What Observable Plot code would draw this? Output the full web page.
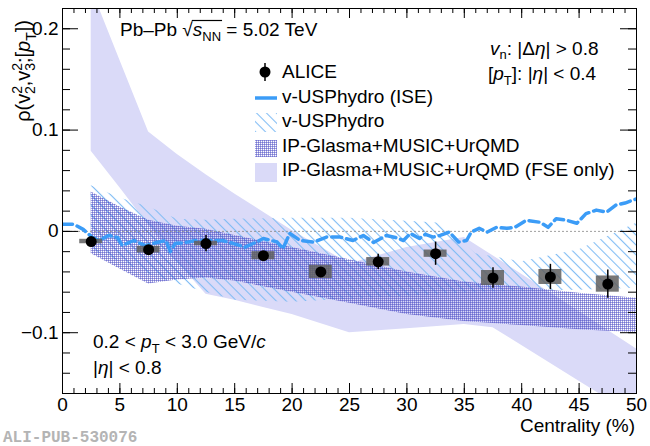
<!DOCTYPE html>
<html><head><meta charset="utf-8">
<script src="https://cdn.jsdelivr.net/npm/d3@7"></script>
<script src="https://cdn.jsdelivr.net/npm/@observablehq/plot@0.6"></script>
<style>body{margin:0;background:#fff} svg{display:block}</style>
</head><body><div id="chart"></div>
<script>
// ALICE data
const centrality = [2.5, 7.5, 12.5, 17.5, 22.5, 27.5, 32.5, 37.5, 42.5, 47.5];
const rho        = [-0.010, -0.018, -0.012, -0.024, -0.040, -0.030, -0.022, -0.046, -0.045, -0.052];
const statErr    = [0.002, 0.003, 0.008, 0.003, 0.004, 0.0075, 0.0115, 0.010, 0.0125, 0.014];
const systErr    = [0.0022, 0.0033, 0.0022, 0.004, 0.0066, 0.0042, 0.0036, 0.0074, 0.0074, 0.008];

// v-USPhydro (ISE) curve
const iseC = [0, 1, 1.8, 2.6, 3.2, 4.0, 4.8, 5.2, 6.2, 7.2, 8.2, 9.0, 9.4, 9.8, 10.7, 11.6, 12.8, 13.9, 14.9, 15.9, 16.8, 17.5, 18.7, 19.2, 19.8, 20.7, 21.9, 23.0, 24.2, 25.3, 26.2, 27.1, 28.2, 29.0, 29.7, 30.3, 31.1, 31.6, 32.3, 32.9, 33.7, 34.5, 35.2, 35.6, 36.3, 37.0, 37.8, 38.7, 39.4, 40.4, 41.6, 42.3, 43.0, 43.9, 44.8, 45.6, 46.5, 47.4, 48.2, 49.0, 50.0];
const iseV = [0.007, 0.007, 0.002, -0.006, -0.009, -0.004, -0.006, -0.014, -0.009, -0.014, -0.011, -0.009, -0.020, -0.012, -0.011, -0.009, -0.009, -0.009, -0.012, -0.0155, -0.011, -0.007, -0.0105, -0.017, -0.002, -0.009, -0.0105, -0.0056, -0.0056, -0.009, -0.004, -0.011, -0.004, -0.006, -0.009, -0.002, -0.007, -0.003, -0.0056, -0.004, -0.0007, -0.0105, -0.009, -0.0007, 0.003, -0.0007, 0.004, 0.003, 0.004, 0.011, 0.009, 0.004, 0.0125, 0.011, 0.008, 0.0175, 0.021, 0.019, 0.026, 0.028, 0.032];

// v-USPhydro band
const usC  = [2.5, 5, 7.5, 10, 12.5, 15, 20, 25, 30, 33, 36, 40, 45, 50];
const usLo = [-0.018, -0.030, -0.042, -0.052, -0.060, -0.068, -0.070, -0.067, -0.064, -0.062, -0.060, -0.059, -0.058, -0.056];
const usHi = [0.045, 0.033, 0.024, 0.012, 0.011, 0.012, 0.013, 0.013, 0.010, 0.008, -0.022, -0.030, -0.018, 0.008];

// IP-Glasma+MUSIC+UrQMD band
const glC  = [2.5, 5, 7.5, 10, 12.5, 15, 20, 25, 30, 35, 40, 45, 50];
const glLo = [-0.022, -0.037, -0.052, -0.048, -0.046, -0.049, -0.060, -0.071, -0.082, -0.089, -0.093, -0.097, -0.100];
const glHi = [0.039, 0.024, 0.011, 0.005, 0.002, -0.004, -0.016, -0.028, -0.040, -0.050, -0.055, -0.061, -0.066];

// IP-Glasma+MUSIC+UrQMD (FSE only) band
const fseC  = [2.5, 5, 7.5, 10, 12.5, 15, 17.5, 20, 25, 30, 35, 37.5, 45, 50];
const fseLo = [0.079, 0.043, 0.006, -0.030, -0.062, -0.068, -0.075, -0.082, -0.100, -0.096, -0.092, -0.095, -0.148, -0.183];
const fseHi = [0.24, 0.169, 0.098, 0.076, 0.056, 0.037, 0.019, 0.001, -0.032, -0.016, -0.006, -0.024, -0.079, -0.116];

// axis ticks
const xMajor = [0, 5, 10, 15, 20, 25, 30, 35, 40, 45, 50];
const xMinor = d3.range(0, 51);
const yMajor = [-0.1, 0, 0.1, 0.2];
const yMinor = d3.range(-8, 12).map(i => i * 0.02);
const yLabels = ["−0.1", "0", "0.1", "0.2"];

const alice = centrality.map((c, i) => ({c, v: rho[i], stat: statErr[i], syst: systErr[i]}));
const ise = iseC.map((c, i) => ({c, v: iseV[i]}));
const us = usC.map((c, i) => ({c, lo: usLo[i], hi: usHi[i]}));
const gl = glC.map((c, i) => ({c, lo: glLo[i], hi: glHi[i]}));
const fse = fseC.map((c, i) => ({c, lo: fseLo[i], hi: fseHi[i]}));

const W = 650, H = 446, mL = 62, mR = 14, mT = 8, mB = 53;
const pw = W - mL - mR, ph = H - mT - mB;
const FONT = "Liberation Sans, Arial, Helvetica, sans-serif";
const boxHalf = 1;

const chart = Plot.plot({
  width: W, height: H,
  marginLeft: mL, marginRight: mR, marginTop: mT, marginBottom: mB,
  x: {domain: [0, 50], axis: null},
  y: {domain: [-0.16, 0.22], axis: null},
  style: {fontFamily: FONT, background: "white", color: "black"},
  marks: [
    Plot.areaY(fse, {x: "c", y1: "lo", y2: "hi", fill: "#dadaf8", clip: true}),
    Plot.areaY(us, {x: "c", y1: "lo", y2: "hi", fill: "url(#hatchUS)", clip: true}),
    Plot.areaY(gl, {x: "c", y1: "lo", y2: "hi", fill: "url(#xhGL)", clip: true}),
    Plot.ruleY([0], {stroke: "#888", strokeDasharray: "2,2", strokeWidth: 0.8}),
    Plot.line(ise, {x: "c", y: "v", stroke: "#3b9cf7", strokeWidth: 3.5, strokeDasharray: "10,5", clip: true}),
    Plot.rect(alice, {x1: d => d.c - boxHalf, x2: d => d.c + boxHalf, y1: d => d.v - d.syst, y2: d => d.v + d.syst, fill: "#5f5f5f", fillOpacity: 0.85}),
    Plot.ruleX(alice, {x: "c", y1: d => d.v - d.stat, y2: d => d.v + d.stat, stroke: "black", strokeWidth: 1.5}),
    Plot.dot(alice, {x: "c", y: "v", r: 5.5, fill: "black"}),
    // ticks (inside frame, ROOT style)
    Plot.ruleX(xMinor, {x: d => d, insetTop: ph - 5, stroke: "black"}),
    Plot.ruleX(xMajor, {x: d => d, insetTop: ph - 10, stroke: "black"}),
    Plot.ruleX(xMinor, {x: d => d, insetBottom: ph - 5, stroke: "black"}),
    Plot.ruleX(xMajor, {x: d => d, insetBottom: ph - 10, stroke: "black"}),
    Plot.ruleY(yMinor, {y: d => d, insetRight: pw - 8, stroke: "black"}),
    Plot.ruleY(yMajor, {y: d => d, insetRight: pw - 16, stroke: "black"}),
    Plot.ruleY(yMinor, {y: d => d, insetLeft: pw - 8, stroke: "black"}),
    Plot.ruleY(yMajor, {y: d => d, insetLeft: pw - 16, stroke: "black"}),
    Plot.frame({stroke: "black"}),
    Plot.text(xMajor, {x: d => d, frameAnchor: "bottom", dy: 17, text: d => String(d), fontSize: 19, fill: "black"}),
    Plot.text(yMajor, {y: d => d, frameAnchor: "left", dx: -4, textAnchor: "end", text: (d, i) => yLabels[i], fontSize: 19, fill: "black"})
  ]
});
document.getElementById("chart").appendChild(chart);

const svg = d3.select(chart);
svg.insert("defs", ":first-child").html(`
  <pattern id="hatchUS" patternUnits="userSpaceOnUse" width="7" height="7" patternTransform="rotate(-45)">
    <line x1="3.5" y1="-1" x2="3.5" y2="8" stroke="#80bcf4" stroke-width="1.1"/>
  </pattern>
  <pattern id="xhGL" patternUnits="userSpaceOnUse" width="2" height="2">
    <rect x="0" y="0" width="2" height="1" fill="#4848c4" fill-opacity="0.5"/>
    <rect x="0" y="0" width="1" height="2" fill="#4848c4" fill-opacity="0.5"/>
  </pattern>`);

const g = svg.append("g").attr("font-family", FONT).attr("font-size", 19).attr("fill", "black").attr("text-anchor", "start");
g.html(`
  <text id="pbpb" x="120" y="36">Pb–Pb √<tspan font-style="italic">s</tspan><tspan font-size="13" dy="5">NN</tspan><tspan dy="-5"> = 5.02 TeV</tspan></text>
  <text x="490" y="55"><tspan font-style="italic">v</tspan><tspan font-size="13" dy="4">n</tspan><tspan dy="-4">: |Δ</tspan><tspan font-style="italic">η</tspan>| &gt; 0.8</text>
  <text x="488" y="80">[<tspan font-style="italic">p</tspan><tspan font-size="13" dy="5">T</tspan><tspan dy="-5">]: |</tspan><tspan font-style="italic">η</tspan>| &lt; 0.4</text>
  <text x="93" y="348">0.2 &lt; <tspan font-style="italic">p</tspan><tspan font-size="13" dy="5">T</tspan><tspan dy="-5"> &lt; 3.0 GeV/</tspan><tspan font-style="italic">c</tspan></text>
  <text x="93" y="374">|<tspan font-style="italic">η</tspan>| &lt; 0.8</text>
  <text x="635" y="432" text-anchor="end">Centrality (%)</text>
  <text transform="translate(30,20) rotate(-90)" text-anchor="end" font-size="20">ρ(v<tspan font-size="14" dy="-8">2</tspan><tspan font-size="14" dx="-8" dy="13">2</tspan><tspan dy="-5">,v</tspan><tspan font-size="14" dy="-8">2</tspan><tspan font-size="14" dx="-8" dy="13">3</tspan><tspan dy="-5">;[</tspan><tspan font-style="italic">p</tspan><tspan font-size="14" dy="6">T</tspan><tspan dy="-6">])</tspan></text>
  <text x="3" y="442" font-family="Liberation Mono, DejaVu Sans Mono, monospace" font-weight="bold" font-size="16" fill="#b4b4b4">ALI-PUB-530076</text>
  <circle cx="265" cy="72" r="5.5" fill="black"/>
  <line x1="265" y1="63" x2="265" y2="81" stroke="black" stroke-width="1.5"/>
  <line x1="255" y1="98" x2="277" y2="98" stroke="#3b9cf7" stroke-width="3.5"/>
  <rect x="255" y="113" width="22" height="19" fill="url(#hatchUS)"/>
  <rect x="255" y="140" width="22" height="17" fill="url(#xhGL)"/>
  <rect x="255" y="163" width="22" height="19" fill="#dadaf8"/>
  <text x="282" y="78">ALICE</text>
  <text x="282" y="102.5">v-USPhydro (ISE)</text>
  <text x="282" y="127">v-USPhydro</text>
  <text x="282" y="151.5">IP-Glasma+MUSIC+UrQMD</text>
  <text x="282" y="176">IP-Glasma+MUSIC+UrQMD (FSE only)</text>
`);
// overline of the square root
const pb = chart.querySelector("#pbpb");
const s0 = pb.getEndPositionOfChar(6).x;
const s1 = pb.getEndPositionOfChar(9).x;
g.append("line").attr("x1", s0 - 1).attr("x2", s1 + 1).attr("y1", 20.5).attr("y2", 20.5).attr("stroke", "black").attr("stroke-width", 1.2);
</script></body></html>
